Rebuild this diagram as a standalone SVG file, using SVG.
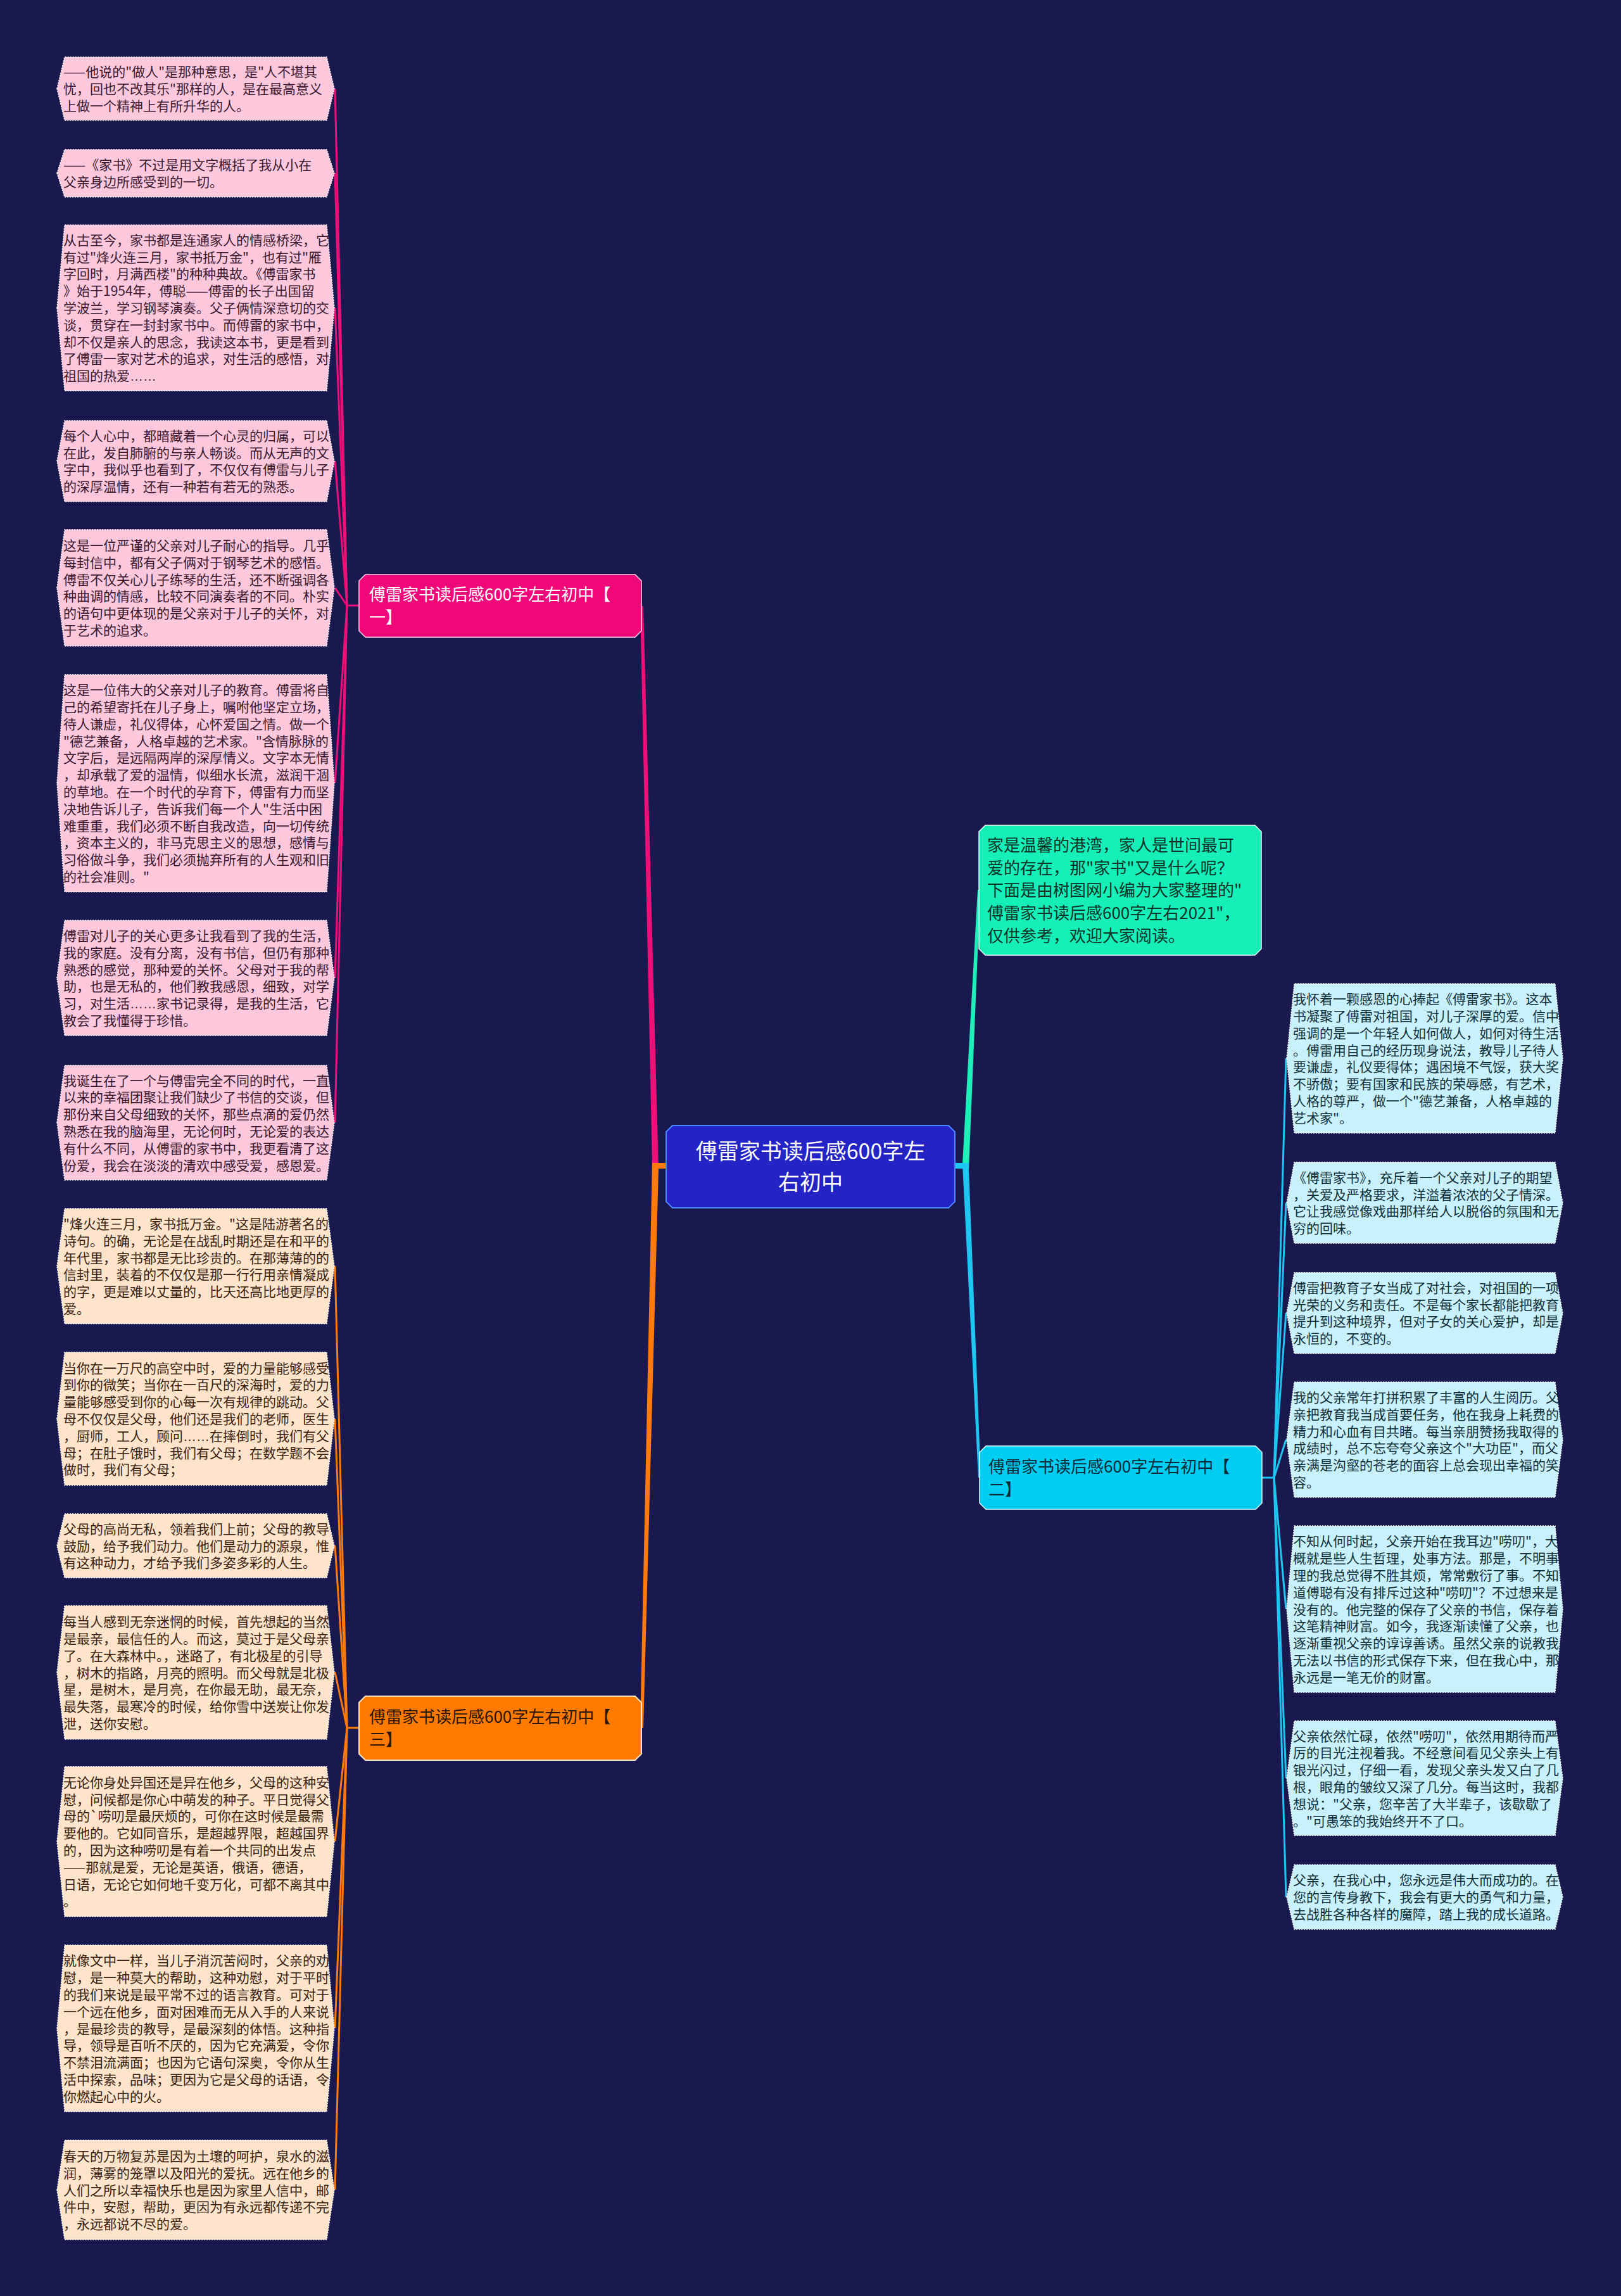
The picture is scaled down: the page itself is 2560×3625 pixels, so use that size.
<svg xmlns="http://www.w3.org/2000/svg" width="2560" height="3625" viewBox="0 0 2560 3625">
<style>
.bg{fill:#19184f}
.t{font-family:"Noto Sans CJK SC","Noto Sans",sans-serif}
.el{font-family:"Liberation Sans",sans-serif}
.leafP{fill:#fdc8dc;stroke:#ffffff;stroke-width:1.5;stroke-dasharray:2 2}
.leafO{fill:#fde4cb;stroke:#ffffff;stroke-width:1.5;stroke-dasharray:2 2}
.leafB{fill:#c9f1fb;stroke:#ffffff;stroke-width:1.5;stroke-dasharray:2 2}
.lt{font-size:21px}
.ltP{fill:#3a1830}
.ltO{fill:#3a2210}
.ltB{fill:#0f2f3a}
.cP{stroke:#ee1078;fill:none;stroke-width:3}
.cO{stroke:#ff7a0a;fill:none;stroke-width:3}
.cB{stroke:#1ec6f2;fill:none;stroke-width:3}
.bt{font-size:26px}
</style>
<rect class="bg" x="0" y="0" width="2560" height="3625"/>
<g id="connectors">
<polygon points="1030,1838 1040,1846 1016,957 1011,957" fill="#ee1078"/>
<polygon points="1030,1838 1040,1846 1016,2728 1011,2728" fill="#ff7a0a"/>
<rect x="1030" y="1836" width="24" height="9" fill="#ff7a0a"/>
<polygon points="1520,1838 1530,1846 1548,1405 1544,1405" fill="#1ef0b9"/>
<polygon points="1520,1838 1530,1846 1549,2333 1545,2333" fill="#1ec6f2"/>
<rect x="1506" y="1836" width="24" height="9" fill="#1ec6f2"/>
<path class="cP" d="M567,956 L548,956"/>
<path class="cP" d="M548,956 L529,140"/>
<path class="cP" d="M548,956 L529,273"/>
<path class="cP" d="M548,956 L529,486"/>
<path class="cP" d="M548,956 L529,728"/>
<path class="cP" d="M548,956 L529,928"/>
<path class="cP" d="M548,956 L529,1236"/>
<path class="cP" d="M548,956 L529,1544"/>
<path class="cP" d="M548,956 L529,1772"/>
<path class="cO" d="M567,2728 L548,2728"/>
<path class="cO" d="M548,2728 L529,1999"/>
<path class="cO" d="M548,2728 L529,2240"/>
<path class="cO" d="M548,2728 L529,2440"/>
<path class="cO" d="M548,2728 L529,2640"/>
<path class="cO" d="M548,2728 L529,2907"/>
<path class="cO" d="M548,2728 L529,3202"/>
<path class="cO" d="M548,2728 L529,3457"/>
<path class="cB" d="M1993,2333 L2012,2333"/>
<path class="cB" d="M2012,2333 L2031,1671"/>
<path class="cB" d="M2012,2333 L2031,1899"/>
<path class="cB" d="M2012,2333 L2031,2073"/>
<path class="cB" d="M2012,2333 L2031,2273"/>
<path class="cB" d="M2012,2333 L2031,2540"/>
<path class="cB" d="M2012,2333 L2031,2807"/>
<path class="cB" d="M2012,2333 L2031,2995"/>
</g>
<g id="center">
<polygon points="1062,1777 1498,1777 1508,1787 1508,1897 1498,1907 1062,1907 1052,1897 1052,1787" fill="#2424c6" stroke="#4a86ff" stroke-width="2"/>
<text class="t" font-size="34" fill="#ffffff" text-anchor="middle"><tspan x="1280" y="1830">傅雷家书读后感600字左</tspan><tspan x="1280" y="1879">右初中</tspan></text>
</g>
<g id="intro">
<polygon points="1556,1303 1982,1303 1992,1313 1992,1498 1982,1508 1556,1508 1546,1498 1546,1313" fill="#16f0b8" stroke="#e6fff6" stroke-width="1.5"/>
<text class="t bt" fill="#0b3428"><tspan x="1559" y="1344">家是温馨的港湾，家人是世间最可</tspan><tspan x="1559" y="1380">爱的存在，那"家书"又是什么呢？</tspan><tspan x="1559" y="1415">下面是由树图网小编为大家整理的"</tspan><tspan x="1559" y="1451">傅雷家书读后感600字左右2021"，</tspan><tspan x="1559" y="1487">仅供参考，欢迎大家阅读。</tspan></text>
</g>
<g id="branch1">
<polygon points="577,907 1003,907 1013,917 1013,996 1003,1006 577,1006 567,996 567,917" fill="#f0077a" stroke="#ffd0e4" stroke-width="1.5"/>
<text class="t bt" fill="#ffffff"><tspan x="583" y="948">傅雷家书读后感600字左右初中【</tspan><tspan x="583" y="984">一】</tspan></text>
</g>
<g id="branch2">
<polygon points="1557,2283 1983,2283 1993,2293 1993,2373 1983,2383 1557,2383 1547,2373 1547,2293" fill="#00cdf2" stroke="#d8f6ff" stroke-width="1.5"/>
<text class="t bt" fill="#0b2a38"><tspan x="1561" y="2325">傅雷家书读后感600字左右初中【</tspan><tspan x="1561" y="2361">二】</tspan></text>
</g>
<g id="branch3">
<polygon points="577,2678 1003,2678 1013,2688 1013,2769 1003,2779 577,2779 567,2769 567,2688" fill="#ff7a00" stroke="#ffe2c8" stroke-width="2"/>
<text class="t bt" fill="#2a1600"><tspan x="583" y="2720">傅雷家书读后感600字左右初中【</tspan><tspan x="583" y="2756">三】</tspan></text>
</g>
<g id="leaf1">
<polygon class="leafP" points="90,140 102,90 516,90 528,140 516,190 102,190"/>
<text class="t lt ltP"><tspan x="100" y="121.2">——他说的"做人"是那种意思，是"人不堪其</tspan><tspan x="100" dy="26.8">忧，回也不改其乐"那样的人，是在最高意义</tspan><tspan x="100" dy="26.8">上做一个精神上有所升华的人。</tspan></text>
</g>
<g id="leaf2">
<polygon class="leafP" points="90,273.5 102,236 516,236 528,273.5 516,311 102,311"/>
<text class="t lt ltP"><tspan x="100" y="268.1">——《家书》不过是用文字概括了我从小在</tspan><tspan x="100" dy="26.8">父亲身边所感受到的一切。</tspan></text>
</g>
<g id="leaf3">
<polygon class="leafP" points="90,486 102,355 516,355 528,486 516,617 102,617"/>
<text class="t lt ltP"><tspan x="100" y="386.8">从古至今，家书都是连通家人的情感桥梁，它</tspan><tspan x="100" dy="26.8">有过"烽火连三月，家书抵万金"，也有过"雁</tspan><tspan x="100" dy="26.8">字回时，月满西楼"的种种典故。《傅雷家书</tspan><tspan x="100" dy="26.8">》始于1954年，傅聪——傅雷的长子出国留</tspan><tspan x="100" dy="26.8">学波兰，学习钢琴演奏。父子俩情深意切的交</tspan><tspan x="100" dy="26.8">谈，贯穿在一封封家书中。而傅雷的家书中，</tspan><tspan x="100" dy="26.8">却不仅是亲人的思念，我读这本书，更是看到</tspan><tspan x="100" dy="26.8">了傅雷一家对艺术的追求，对生活的感悟，对</tspan><tspan x="100" dy="26.8">祖国的热爱<tspan class="el">……</tspan></tspan></text>
</g>
<g id="leaf4">
<polygon class="leafP" points="90,728 102,664 516,664 528,728 516,792 102,792"/>
<text class="t lt ltP"><tspan x="100" y="695.8">每个人心中，都暗藏着一个心灵的归属，可以</tspan><tspan x="100" dy="26.8">在此，发自肺腑的与亲人畅谈。而从无声的文</tspan><tspan x="100" dy="26.8">字中，我似乎也看到了，不仅仅有傅雷与儿子</tspan><tspan x="100" dy="26.8">的深厚温情，还有一种若有若无的熟悉。</tspan></text>
</g>
<g id="leaf5">
<polygon class="leafP" points="90,928 102,836 516,836 528,928 516,1020 102,1020"/>
<text class="t lt ltP"><tspan x="100" y="869">这是一位严谨的父亲对儿子耐心的指导。几乎</tspan><tspan x="100" dy="26.8">每封信中，都有父子俩对于钢琴艺术的感悟。</tspan><tspan x="100" dy="26.8">傅雷不仅关心儿子练琴的生活，还不断强调各</tspan><tspan x="100" dy="26.8">种曲调的情感，比较不同演奏者的不同。朴实</tspan><tspan x="100" dy="26.8">的语句中更体现的是父亲对于儿子的关怀，对</tspan><tspan x="100" dy="26.8">于艺术的追求。</tspan></text>
</g>
<g id="leaf6">
<polygon class="leafP" points="90,1236.5 102,1065 516,1065 528,1236.5 516,1408 102,1408"/>
<text class="t lt ltP"><tspan x="100" y="1097.1">这是一位伟大的父亲对儿子的教育。傅雷将自</tspan><tspan x="100" dy="26.8">己的希望寄托在儿子身上，嘱咐他坚定立场，</tspan><tspan x="100" dy="26.8">待人谦虚，礼仪得体，心怀爱国之情。做一个</tspan><tspan x="100" dy="26.8">"德艺兼备，人格卓越的艺术家。"含情脉脉的</tspan><tspan x="100" dy="26.8">文字后，是远隔两岸的深厚情义。文字本无情</tspan><tspan x="100" dy="26.8">，却承载了爱的温情，似细水长流，滋润干涸</tspan><tspan x="100" dy="26.8">的草地。在一个时代的孕育下，傅雷有力而坚</tspan><tspan x="100" dy="26.8">决地告诉儿子，告诉我们每一个人"生活中困</tspan><tspan x="100" dy="26.8">难重重，我们必须不断自我改造，向一切传统</tspan><tspan x="100" dy="26.8">，资本主义的，非马克思主义的思想，感情与</tspan><tspan x="100" dy="26.8">习俗做斗争，我们必须抛弃所有的人生观和旧</tspan><tspan x="100" dy="26.8">的社会准则。"</tspan></text>
</g>
<g id="leaf7">
<polygon class="leafP" points="90,1544 102,1453 516,1453 528,1544 516,1635 102,1635"/>
<text class="t lt ltP"><tspan x="100" y="1485">傅雷对儿子的关心更多让我看到了我的生活，</tspan><tspan x="100" dy="26.8">我的家庭。没有分离，没有书信，但仍有那种</tspan><tspan x="100" dy="26.8">熟悉的感觉，那种爱的关怀。父母对于我的帮</tspan><tspan x="100" dy="26.8">助，也是无私的，他们教我感恩，细致，对学</tspan><tspan x="100" dy="26.8">习，对生活<tspan class="el">……</tspan>家书记录得，是我的生活，它</tspan><tspan x="100" dy="26.8">教会了我懂得于珍惜。</tspan></text>
</g>
<g id="leaf8">
<polygon class="leafP" points="90,1772.5 102,1682 516,1682 528,1772.5 516,1863 102,1863"/>
<text class="t lt ltP"><tspan x="100" y="1713.5">我诞生在了一个与傅雷完全不同的时代，一直</tspan><tspan x="100" dy="26.8">以来的幸福团聚让我们缺少了书信的交谈，但</tspan><tspan x="100" dy="26.8">那份来自父母细致的关怀，那些点滴的爱仍然</tspan><tspan x="100" dy="26.8">熟悉在我的脑海里，无论何时，无论爱的表达</tspan><tspan x="100" dy="26.8">有什么不同，从傅雷的家书中，我更看清了这</tspan><tspan x="100" dy="26.8">份爱，我会在淡淡的清欢中感受爱，感恩爱。</tspan></text>
</g>
<g id="leaf9">
<polygon class="leafO" points="90,1999 102,1908 516,1908 528,1999 516,2090 102,2090"/>
<text class="t lt ltO"><tspan x="100" y="1940">"烽火连三月，家书抵万金。"这是陆游著名的</tspan><tspan x="100" dy="26.8">诗句。的确，无论是在战乱时期还是在和平的</tspan><tspan x="100" dy="26.8">年代里，家书都是无比珍贵的。在那薄薄的的</tspan><tspan x="100" dy="26.8">信封里，装着的不仅仅是那一行行用亲情凝成</tspan><tspan x="100" dy="26.8">的字，更是难以丈量的，比天还高比地更厚的</tspan><tspan x="100" dy="26.8">爱。</tspan></text>
</g>
<g id="leaf10">
<polygon class="leafO" points="90,2240 102,2135 516,2135 528,2240 516,2345 102,2345"/>
<text class="t lt ltO"><tspan x="100" y="2167.6">当你在一万尺的高空中时，爱的力量能够感受</tspan><tspan x="100" dy="26.8">到你的微笑；当你在一百尺的深海时，爱的力</tspan><tspan x="100" dy="26.8">量能够感受到你的心每一次有规律的跳动。父</tspan><tspan x="100" dy="26.8">母不仅仅是父母，他们还是我们的老师，医生</tspan><tspan x="100" dy="26.8">，厨师，工人，顾问<tspan class="el">……</tspan>在摔倒时，我们有父</tspan><tspan x="100" dy="26.8">母；在肚子饿时，我们有父母；在数学题不会</tspan><tspan x="100" dy="26.8">做时，我们有父母；</tspan></text>
</g>
<g id="leaf11">
<polygon class="leafO" points="90,2440.5 102,2390 516,2390 528,2440.5 516,2491 102,2491"/>
<text class="t lt ltO"><tspan x="100" y="2421.7">父母的高尚无私，领着我们上前；父母的教导</tspan><tspan x="100" dy="26.8">鼓励，给予我们动力。他们是动力的源泉，惟</tspan><tspan x="100" dy="26.8">有这种动力，才给予我们多姿多彩的人生。</tspan></text>
</g>
<g id="leaf12">
<polygon class="leafO" points="90,2640.5 102,2535 516,2535 528,2640.5 516,2746 102,2746"/>
<text class="t lt ltO"><tspan x="100" y="2568.1">每当人感到无奈迷惘的时候，首先想起的当然</tspan><tspan x="100" dy="26.8">是最亲，最信任的人。而这，莫过于是父母亲</tspan><tspan x="100" dy="26.8">了。在大森林中。，迷路了，有北极星的引导</tspan><tspan x="100" dy="26.8">，树木的指路，月亮的照明。而父母就是北极</tspan><tspan x="100" dy="26.8">星，是树木，是月亮，在你最无助，最无奈，</tspan><tspan x="100" dy="26.8">最失落，最寒冷的时候，给你雪中送炭让你发</tspan><tspan x="100" dy="26.8">泄，送你安慰。</tspan></text>
</g>
<g id="leaf13">
<polygon class="leafO" points="90,2907.5 102,2789 516,2789 528,2907.5 516,3026 102,3026"/>
<text class="t lt ltO"><tspan x="100" y="2821.7">无论你身处异国还是异在他乡，父母的这种安</tspan><tspan x="100" dy="26.8">慰，问候都是你心中萌发的种子。平日觉得父</tspan><tspan x="100" dy="26.8">母的`唠叨是最厌烦的，可你在这时候是最需</tspan><tspan x="100" dy="26.8">要他的。它如同音乐，是超越界限，超越国界</tspan><tspan x="100" dy="26.8">的，因为这种唠叨是有着一个共同的出发点</tspan><tspan x="100" dy="26.8">——那就是爱，无论是英语，俄语，德语，</tspan><tspan x="100" dy="26.8">日语，无论它如何地千变万化，可都不离其中</tspan><tspan x="100" dy="26.8">。</tspan></text>
</g>
<g id="leaf14">
<polygon class="leafO" points="90,3202.5 102,3071 516,3071 528,3202.5 516,3334 102,3334"/>
<text class="t lt ltO"><tspan x="100" y="3103.3">就像文中一样，当儿子消沉苦闷时，父亲的劝</tspan><tspan x="100" dy="26.8">慰，是一种莫大的帮助，这种劝慰，对于平时</tspan><tspan x="100" dy="26.8">的我们来说是最平常不过的语言教育。可对于</tspan><tspan x="100" dy="26.8">一个远在他乡，面对困难而无从入手的人来说</tspan><tspan x="100" dy="26.8">，是最珍贵的教导，是最深刻的体悟。这种指</tspan><tspan x="100" dy="26.8">导，领导是百听不厌的，因为它充满爱，令你</tspan><tspan x="100" dy="26.8">不禁泪流满面；也因为它语句深奥，令你从生</tspan><tspan x="100" dy="26.8">活中探索，品味；更因为它是父母的话语，令</tspan><tspan x="100" dy="26.8">你燃起心中的火。</tspan></text>
</g>
<g id="leaf15">
<polygon class="leafO" points="90,3457.5 102,3379 516,3379 528,3457.5 516,3536 102,3536"/>
<text class="t lt ltO"><tspan x="100" y="3411.9">春天的万物复苏是因为土壤的呵护，泉水的滋</tspan><tspan x="100" dy="26.8">润，薄雾的笼罩以及阳光的爱抚。远在他乡的</tspan><tspan x="100" dy="26.8">人们之所以幸福快乐也是因为家里人信中，邮</tspan><tspan x="100" dy="26.8">件中，安慰，帮助，更因为有永远都传递不完</tspan><tspan x="100" dy="26.8">，永远都说不尽的爱。</tspan></text>
</g>
<g id="rleaf1">
<polygon class="leafB" points="2032,1671 2044,1553 2456,1553 2468,1671 2456,1789 2044,1789"/>
<text class="t lt ltB"><tspan x="2042" y="1585.2">我怀着一颗感恩的心捧起《傅雷家书》。这本</tspan><tspan x="2042" dy="26.8">书凝聚了傅雷对祖国，对儿子深厚的爱。信中</tspan><tspan x="2042" dy="26.8">强调的是一个年轻人如何做人，如何对待生活</tspan><tspan x="2042" dy="26.8">。傅雷用自己的经历现身说法，教导儿子待人</tspan><tspan x="2042" dy="26.8">要谦虚，礼仪要得体；遇困境不气馁，获大奖</tspan><tspan x="2042" dy="26.8">不骄傲；要有国家和民族的荣辱感，有艺术，</tspan><tspan x="2042" dy="26.8">人格的尊严，做一个"德艺兼备，人格卓越的</tspan><tspan x="2042" dy="26.8">艺术家"。</tspan></text>
</g>
<g id="rleaf2">
<polygon class="leafB" points="2032,1899 2044,1835 2456,1835 2468,1899 2456,1963 2044,1963"/>
<text class="t lt ltB"><tspan x="2042" y="1866.8">《傅雷家书》，充斥着一个父亲对儿子的期望</tspan><tspan x="2042" dy="26.8">，关爱及严格要求，洋溢着浓浓的父子情深。</tspan><tspan x="2042" dy="26.8">它让我感觉像戏曲那样给人以脱俗的氛围和无</tspan><tspan x="2042" dy="26.8">穷的回味。</tspan></text>
</g>
<g id="rleaf3">
<polygon class="leafB" points="2032,2073 2044,2009 2456,2009 2468,2073 2456,2137 2044,2137"/>
<text class="t lt ltB"><tspan x="2042" y="2040.8">傅雷把教育子女当成了对社会，对祖国的一项</tspan><tspan x="2042" dy="26.8">光荣的义务和责任。不是每个家长都能把教育</tspan><tspan x="2042" dy="26.8">提升到这种境界，但对子女的关心爱护，却是</tspan><tspan x="2042" dy="26.8">永恒的，不变的。</tspan></text>
</g>
<g id="rleaf4">
<polygon class="leafB" points="2032,2273 2044,2182 2456,2182 2468,2273 2456,2364 2044,2364"/>
<text class="t lt ltB"><tspan x="2042" y="2214">我的父亲常年打拼积累了丰富的人生阅历。父</tspan><tspan x="2042" dy="26.8">亲把教育我当成首要任务，他在我身上耗费的</tspan><tspan x="2042" dy="26.8">精力和心血有目共睹。每当亲朋赞扬我取得的</tspan><tspan x="2042" dy="26.8">成绩时，总不忘夸夸父亲这个"大功臣"，而父</tspan><tspan x="2042" dy="26.8">亲满是沟壑的苍老的面容上总会现出幸福的笑</tspan><tspan x="2042" dy="26.8">容。</tspan></text>
</g>
<g id="rleaf5">
<polygon class="leafB" points="2032,2540.5 2044,2409 2456,2409 2468,2540.5 2456,2672 2044,2672"/>
<text class="t lt ltB"><tspan x="2042" y="2441.3">不知从何时起，父亲开始在我耳边"唠叨"，大</tspan><tspan x="2042" dy="26.8">概就是些人生哲理，处事方法。那是，不明事</tspan><tspan x="2042" dy="26.8">理的我总觉得不胜其烦，常常敷衍了事。不知</tspan><tspan x="2042" dy="26.8">道傅聪有没有排斥过这种"唠叨"？不过想来是</tspan><tspan x="2042" dy="26.8">没有的。他完整的保存了父亲的书信，保存着</tspan><tspan x="2042" dy="26.8">这笔精神财富。如今，我逐渐读懂了父亲，也</tspan><tspan x="2042" dy="26.8">逐渐重视父亲的谆谆善诱。虽然父亲的说教我</tspan><tspan x="2042" dy="26.8">无法以书信的形式保存下来，但在我心中，那</tspan><tspan x="2042" dy="26.8">永远是一笔无价的财富。</tspan></text>
</g>
<g id="rleaf6">
<polygon class="leafB" points="2032,2807.5 2044,2717 2456,2717 2468,2807.5 2456,2898 2044,2898"/>
<text class="t lt ltB"><tspan x="2042" y="2748.5">父亲依然忙碌，依然"唠叨"，依然用期待而严</tspan><tspan x="2042" dy="26.8">厉的目光注视着我。不经意间看见父亲头上有</tspan><tspan x="2042" dy="26.8">银光闪过，仔细一看，发现父亲头发又白了几</tspan><tspan x="2042" dy="26.8">根，眼角的皱纹又深了几分。每当这时，我都</tspan><tspan x="2042" dy="26.8">想说："父亲，您辛苦了大半辈子，该歇歇了</tspan><tspan x="2042" dy="26.8">。"可愚笨的我始终开不了口。</tspan></text>
</g>
<g id="rleaf7">
<polygon class="leafB" points="2032,2995 2044,2944 2456,2944 2468,2995 2456,3046 2044,3046"/>
<text class="t lt ltB"><tspan x="2042" y="2976.2">父亲，在我心中，您永远是伟大而成功的。在</tspan><tspan x="2042" dy="26.8">您的言传身教下，我会有更大的勇气和力量，</tspan><tspan x="2042" dy="26.8">去战胜各种各样的魔障，踏上我的成长道路。</tspan></text>
</g>
</svg>
